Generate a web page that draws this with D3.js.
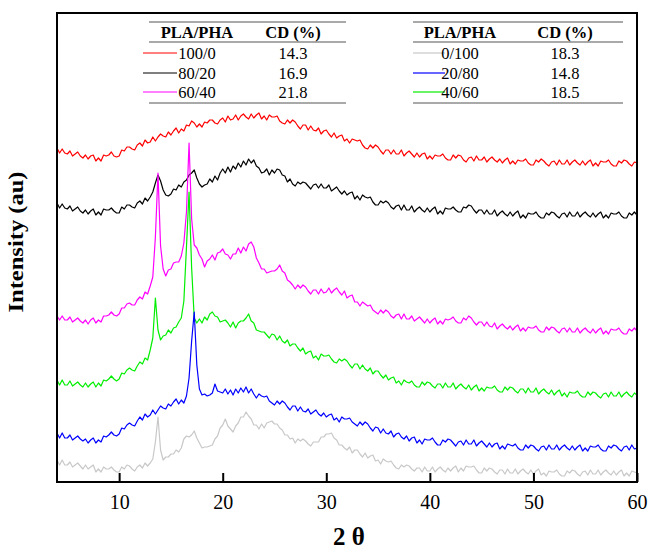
<!DOCTYPE html>
<html>
<head>
<meta charset="utf-8">
<script src="https://cdn.jsdelivr.net/npm/d3@7/dist/d3.min.js"></script>
<style>
  html, body { margin: 0; padding: 0; background: #fff; }
  svg { display: block; }
  text { font-family: "Liberation Serif", "Times New Roman", serif; }
</style>
</head>
<body>
<svg id="chart" width="651" height="552"></svg>
<script>
// 2θ sampling grid (degrees), 0.25° steps from 4° to 60°
const thetaStart = 4, thetaStep = 0.25;

// Stacked diffraction intensities (arbitrary units, offset per blend)
const pla100 = [
334,329,333,329, 328,331,326,328, 330,326,324,327, 323,326,327,321, 324,321,327,326,
327,330,326,325, 326,332,331,335, 335,333,332,337, 339,336,342,339, 340,345,341,345,
348,346,345,350, 347,351,354,349, 353,351,357,356, 361,359,355,358, 355,360,359,362,
362,359,358,362, 364,360,366,362, 363,367,362,366, 368,365,363,368, 364,367,369,363,
366,362,367,365, 365,366,361,359, 358,362,359,362, 360,356,353,357, 357,352,356,352,
351,354,348,351, 352,348,345,349, 344,346,347,341, 343,339,343,342, 341,342,337,334,
333,337,334,337, 335,331,328,332, 332,328,332,328, 328,332,326,329, 331,328,325,329,
325,328,329,323, 326,323,327,326, 326,328,324,322, 322,327,324,327, 326,322,320,324,
325,321,326,322, 322,325,320,323, 325,322,320,323, 319,322,324,318, 321,318,322,321,
321,323,319,317, 317,322,320,323, 321,318,316,320, 321,317,322,318, 318,322,317,320,
322,319,317,321, 317,320,322,316, 319,316,321,320, 320,322,318,316, 316,321,319,322,
321,318,316,320, 319];

const pla80 = [
279,274,278,274, 273,276,271,273, 275,271,269,272, 268,271,273,267, 270,267,273,272,
272,274,271,269, 269,275,273,277, 277,275,274,279, 281,278,284,281, 285,290,299,307,
301,292,287,286, 288,293,292,297, 295,300,302,307, 309,312,304,298, 295,297,298,303,
300,306,302,309, 313,309,315,310, 316,313,319,315, 321,317,323,319, 322,316,314,309,
310,313,307,312, 309,313,312,307, 306,300,303,298, 296,300,298,300, 299,296,293,297,
298,294,298,294, 294,297,291,293, 295,291,288,291, 287,289,290,283, 286,282,287,285,
284,285,280,277, 277,281,279,281, 279,275,273,276, 277,272,277,272, 272,276,270,273,
275,272,270,274, 270,273,275,268, 271,268,274,273, 273,275,272,270, 270,275,274,277,
276,272,269,272, 272,268,272,268, 268,272,266,269, 271,268,266,270, 266,269,271,264,
267,264,269,268, 268,270,266,264, 264,269,267,270, 269,266,264,268, 269,265,270,266,
266,270,265,268, 270,267,265,269, 265,268,270,264, 267,264,269,268, 268,270,266,264,
264,269,267,270, 267];

const pla60 = [
166,162,166,162, 162,165,160,162, 164,161,159,162, 158,162,164,159, 162,160,166,166,
167,170,167,166, 168,174,174,178, 179,177,177,182, 185,183,190,188, 196,205,245,309,
236,213,206,212, 213,219,220,220, 226,239,270,339, 263,237,234,227, 223,215,221,223,
227,222,229,230, 233,228,227,223, 228,228,234,229, 235,231,238,240, 235,224,219,213,
213,209,210,211, 211,213,217,211, 209,202,200,197, 193,197,194,197, 195,191,188,192,
192,188,193,189, 190,194,189,192, 194,190,187,191, 184,186,187,180, 180,176,180,178,
176,177,172,170, 168,172,169,172, 170,166,164,167, 168,163,168,163, 163,166,161,163,
165,162,159,163, 159,162,164,158, 161,158,163,162, 163,165,161,159, 159,164,162,166,
164,160,157,160, 160,156,160,156, 155,159,153,156, 158,155,153,156, 152,155,157,151,
154,151,155,154, 154,156,152,150, 150,155,152,155, 154,151,149,153, 154,150,154,150,
150,154,149,152, 154,151,149,153, 149,152,154,148, 151,148,153,152, 152,154,150,148,
148,153,151,154, 151];

const pla40 = [
102,97,102,97, 97,101,96,98, 100,97,95,99, 95,98,100,95, 99,96,102,101,
103,106,103,101, 103,109,108,112, 114,112,111,116, 120,118,124,122, 132,144,184,152,
142,146,147,152, 149,154,155,160, 164,181,235,290, 214,164,159,163, 159,165,162,168,
170,166,165,160, 161,162,159,155, 160,154,159,161, 161,164,168,161, 159,152,151,150,
150,147,144,148, 147,142,146,141, 139,142,136,138, 138,134,131,134, 128,130,131,124,
126,122,128,126, 126,127,123,120, 119,123,121,123, 121,117,114,118, 118,113,117,113,
111,114,108,111, 111,107,104,107, 102,104,105,99, 101,97,102,100, 99,101,97,95,
95,100,97,100, 99,96,94,98, 98,94,99,95, 95,99,93,96, 98,95,93,97,
92,95,97,91, 94,91,95,94, 94,96,92,90, 90,95,92,95, 94,91,89,93,
93,89,94,90, 90,94,88,91, 93,90,88,92, 87,90,92,86, 89,85,90,89,
89,91,87,85, 85,90,87,90, 89,86,84,88, 89,85,90,86, 86,90,85,88,
90,87,85,89, 87];

const pla20 = [
49,44,49,44, 44,47,42,44, 46,43,41,43, 39,42,44,39, 42,40,46,45,
47,50,47,46, 48,54,53,57, 59,57,56,61, 65,62,68,65, 67,72,68,72,
76,74,73,78, 76,80,83,78, 82,79,86,104, 141,170,117,93, 87,88,86,87,
89,98,91,90, 89,93,88,92, 87,93,89,94, 90,95,89,93, 88,84,88,86,
85,86,81,79, 77,81,78,81, 79,75,72,76, 76,71,75,71, 70,73,68,70,
72,68,66,69, 65,67,68,62, 64,60,65,63, 63,64,60,58, 56,60,57,60,
58,54,51,55, 54,49,53,49, 48,51,45,48, 49,45,43,46, 41,44,45,39,
42,38,43,42, 42,44,40,37, 37,42,40,43, 42,39,36,40, 41,37,42,38,
38,42,36,39, 41,38,35,39, 35,38,39,33, 36,33,38,37, 36,38,34,32,
32,37,34,37, 36,33,31,35, 36,32,37,33, 33,37,32,35, 37,34,32,36,
32,35,37,31, 34,31,36,35, 35,37,33,31, 31,36,34,37, 36,33,31,35,
36,32,37,33, 34];

const pla0 = [
22,17,22,17, 17,20,15,17, 19,16,13,17, 13,15,17,10, 13,10,15,13,
13,15,12,10, 10,15,13,17, 16,13,11,15, 17,14,19,16, 19,23,40,65,
32,22,25,25, 28,28,32,30, 34,43,46,45, 47,51,44,39, 34,35,35,36,
37,43,46,54, 57,63,56,53, 50,56,59,65, 65,70,66,63, 57,57,53,58,
54,59,60,61, 58,58,54,52, 47,47,43,44, 39,43,41,43, 41,38,36,40,
40,40,45,45, 48,48,49,44, 42,37,37,34, 32,35,29,32, 32,28,25,29,
24,26,27,21, 22,18,23,21, 20,21,17,14, 13,17,15,17, 16,13,11,14,
14,10,15,11, 11,15,10,13, 15,12,10,14, 11,14,16,10, 14,11,16,15,
15,16,12,9, 9,14,11,14, 13,10,8,12, 12,8,13,9, 9,13,8,11,
13,10,8,12, 8,11,13,7, 9,6,11,10, 10,12,8,6, 6,11,9,12,
11,8,6,10, 11,7,12,8, 8,12,7,10, 12,9,7,11, 7,10,12,6,
9,6,11,10, 9];

// Blend labels, crystallinity (CD %) and colours
const blendsLeft  = ["100/0", "80/20", "60/40"];
const cdLeft      = ["14.3", "16.9", "21.8"];
const colorsLeft  = ["#ff0000", "#000000", "#ff00ff"];
const blendsRight = ["0/100", "20/80", "40/60"];
const cdRight     = ["18.3", "14.8", "18.5"];
const colorsRight = ["#c8c8c8", "#0000ff", "#00ee00"];

const xTicks = [10, 20, 30, 40, 50, 60];

const series = [
  { values: pla100, color: colorsLeft[0] },
  { values: pla80,  color: colorsLeft[1] },
  { values: pla60,  color: colorsLeft[2] },
  { values: pla40,  color: colorsRight[2] },
  { values: pla20,  color: colorsRight[1] },
  { values: pla0,   color: colorsRight[0] }
];

const svg = d3.select("#chart");
const m = { left: 57, right: 637, top: 13, bottom: 482 };

const x = d3.scaleLinear().domain([4, 60]).range([m.left, m.right]);
const y = d3.scaleLinear().domain([0, 469]).range([m.bottom, m.top]);

svg.append("clipPath").attr("id", "plotclip")
  .append("rect").attr("x", m.left).attr("y", m.top)
  .attr("width", m.right - m.left).attr("height", m.bottom - m.top);

const line = d3.line()
  .x((d, i) => x(thetaStart + i * thetaStep))
  .y(d => y(d));

const curves = svg.append("g").attr("clip-path", "url(#plotclip)");
series.forEach(s => {
  curves.append("path")
    .datum(s.values)
    .attr("d", line)
    .attr("fill", "none")
    .attr("stroke", s.color)
    .attr("stroke-width", 1.2)
    .attr("stroke-linejoin", "round");
});

// Frame
svg.append("rect")
  .attr("x", m.left).attr("y", m.top)
  .attr("width", m.right - m.left).attr("height", m.bottom - m.top)
  .attr("fill", "none").attr("stroke", "#000").attr("stroke-width", 2);

// Bottom axis with inward ticks
const xAxis = d3.axisBottom(x).tickValues(xTicks).tickSize(-9).tickPadding(13).tickFormat(d3.format("d"));
const gx = svg.append("g").attr("transform", `translate(0,${m.bottom})`).call(xAxis);
gx.select(".domain").remove();
gx.selectAll(".tick line").attr("stroke", "#000").attr("stroke-width", 2);
gx.selectAll(".tick text")
  .attr("font-family", "Liberation Serif, serif")
  .attr("font-size", 20).attr("fill", "#000");

// Axis titles
svg.append("text")
  .attr("x", 349).attr("y", 545)
  .attr("text-anchor", "middle")
  .attr("font-size", 25).attr("font-weight", "bold")
  .text("2 θ");

svg.append("text")
  .attr("transform", "translate(23,242) rotate(-90)")
  .attr("text-anchor", "middle")
  .attr("font-size", 20).attr("font-weight", "bold")
  .attr("textLength", 141).attr("lengthAdjust", "spacingAndGlyphs")
  .text("Intensity (au)");

// Legend tables
function legendTable(g, opts) {
  const { x0, x1, top, col1, col2, swX0, swX1, blends, cds, colors } = opts;
  const rowY = [53, 73, 92];
  [top, top + 20, top + 81].forEach(ly => {
    g.append("line").attr("x1", x0).attr("x2", x1).attr("y1", ly).attr("y2", ly)
      .attr("stroke", "#555").attr("stroke-width", 1.2);
  });
  g.append("text").attr("x", col1).attr("y", top + 16).attr("text-anchor", "middle")
    .attr("font-size", 16.5).attr("font-weight", "bold").text("PLA/PHA");
  g.append("text").attr("x", col2).attr("y", top + 16).attr("text-anchor", "middle")
    .attr("font-size", 16.5).attr("font-weight", "bold").text("CD (%)");
  blends.forEach((b, i) => {
    g.append("line").attr("x1", swX0).attr("x2", swX1)
      .attr("y1", rowY[i]).attr("y2", rowY[i])
      .attr("stroke", colors[i]).attr("stroke-width", 1.2);
    g.append("text").attr("x", col1).attr("y", rowY[i] + 6).attr("text-anchor", "middle")
      .attr("font-size", 16.5).text(b);
    g.append("text").attr("x", col2).attr("y", rowY[i] + 6).attr("text-anchor", "middle")
      .attr("font-size", 16.5).text(cds[i]);
  });
}

legendTable(svg.append("g"), {
  x0: 149, x1: 346, top: 22, col1: 197, col2: 293, swX0: 143, swX1: 177,
  blends: blendsLeft, cds: cdLeft, colors: colorsLeft
});
legendTable(svg.append("g"), {
  x0: 413, x1: 623, top: 22, col1: 460, col2: 565, swX0: 413, swX1: 445,
  blends: blendsRight, cds: cdRight, colors: colorsRight
});
</script>
</body>
</html>
